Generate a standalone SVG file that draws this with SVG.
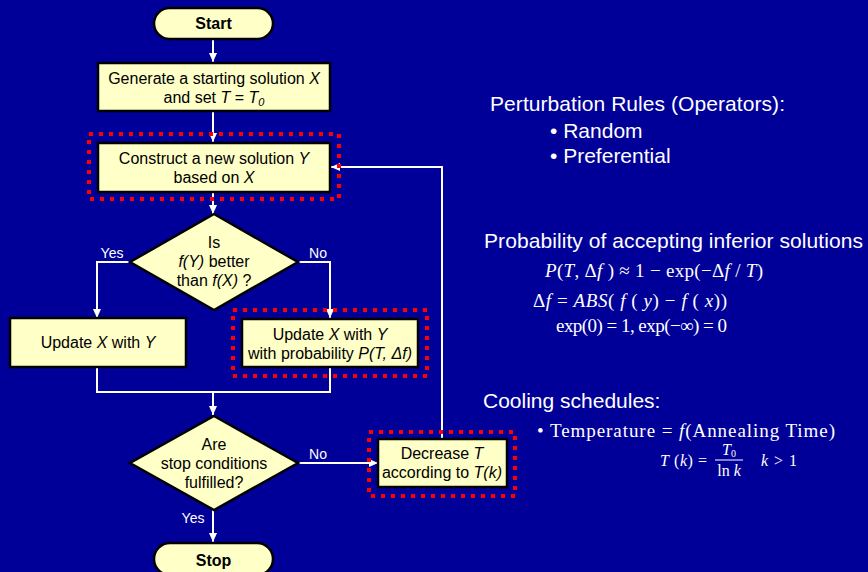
<svg xmlns="http://www.w3.org/2000/svg" width="868" height="572" viewBox="0 0 868 572">
<defs>
<marker id="ah" markerUnits="userSpaceOnUse" markerWidth="10" markerHeight="10" refX="9" refY="5" orient="auto">
<path d="M0,1 L9,5 L0,9 Z" fill="#fff"/>
</marker>
<style>
.box{fill:#FFFFC8;stroke:#000;stroke-width:2.5}
.hl{fill:none;stroke:#F00;stroke-width:4;stroke-dasharray:4 6}
.t{font-family:"Liberation Sans",Arial,sans-serif;font-size:16px;fill:#000;text-anchor:middle}
.b{font-weight:bold}
.i{font-style:italic}
.lbl{font-family:"Liberation Sans",Arial,sans-serif;font-size:14px;fill:#fff;text-anchor:middle}
.c{fill:none;stroke:#fff;stroke-width:2}
.a{marker-end:url(#ah)}
.r{font-family:"Liberation Sans",Arial,sans-serif;font-size:21px;fill:#fff}
.m{font-family:"Liberation Serif","Times New Roman",serif;font-size:19px;fill:#fff}
.s{font-family:"Liberation Serif","Times New Roman",serif;font-size:16px;fill:#fff}
</style>
</defs>
<rect width="868" height="572" fill="#000099"/>

<g id="connectors">
<path class="c a" d="M213,39 V62"/>
<path class="c a" d="M213,111 V142"/>
<path class="c a" d="M213,192 V214"/>
<path class="c a" d="M130,262 H97 V318"/>
<path class="c a" d="M298,262 H330 V318"/>
<path class="c" d="M97,367 V392 H330 V367"/>
<path class="c a" d="M213,392 V415"/>
<path class="c a" d="M298,463 H378"/>
<path class="c a" d="M213,510 V542"/>
<path class="c a" d="M442,439 V167 H331"/>
<text class="lbl" x="112" y="258">Yes</text>
<text class="lbl" x="318" y="258">No</text>
<text class="lbl" x="318" y="459">No</text>
<text class="lbl" x="193" y="523">Yes</text>
</g>

<g id="start">
<rect class="box" x="154" y="8" width="119" height="31" rx="15.5"/>
<text class="t b" x="213.5" y="29">Start</text>
</g>

<g id="generate">
<rect class="box" x="98" y="63" width="232" height="48"/>
<text class="t" x="214" y="84">Generate a starting solution <tspan class="i">X</tspan></text>
<text class="t" x="214" y="103">and set <tspan class="i">T</tspan> = <tspan class="i">T</tspan><tspan class="i" font-size="11" dy="3">0</tspan></text>
</g>

<g id="construct">
<rect class="hl" x="89" y="134" width="250" height="65"/>
<rect class="box" x="98" y="143" width="232" height="49"/>
<text class="t" x="214" y="164">Construct a new solution <tspan class="i">Y</tspan></text>
<text class="t" x="214" y="183">based on <tspan class="i">X</tspan></text>
</g>

<g id="decision1">
<polygon class="box" points="214,214 298,262 214,310 130,262"/>
<text class="t" x="214" y="248">Is</text>
<text class="t" x="214" y="267"><tspan class="i">f(Y)</tspan> better</text>
<text class="t" x="214" y="286">than <tspan class="i">f(X)</tspan> ?</text>
</g>

<g id="update">
<rect class="box" x="10" y="318" width="176" height="49"/>
<text class="t" x="98" y="348">Update <tspan class="i">X</tspan> with <tspan class="i">Y</tspan></text>
</g>

<g id="updateprob">
<rect class="hl" x="233" y="310" width="194" height="66"/>
<rect class="box" x="242" y="319" width="176" height="48"/>
<text class="t" x="330" y="340">Update <tspan class="i">X</tspan> with <tspan class="i">Y</tspan></text>
<text class="t" x="330" y="359">with probability <tspan class="i">P(T, Δf)</tspan></text>
</g>

<g id="decision2">
<polygon class="box" points="214,416 298,463 214,510 130,463"/>
<text class="t" x="214" y="450">Are</text>
<text class="t" x="214" y="469">stop conditions</text>
<text class="t" x="214" y="488">fulfilled?</text>
</g>

<g id="decrease">
<rect class="hl" x="369" y="432" width="146" height="64"/>
<rect class="box" x="378" y="439" width="129" height="48"/>
<text class="t" x="442" y="459">Decrease <tspan class="i">T</tspan></text>
<text class="t" x="442" y="478">according to <tspan class="i">T(k)</tspan></text>
</g>

<g id="stop">
<rect class="box" x="154" y="543" width="119" height="32" rx="16"/>
<text class="t b" x="213.5" y="566">Stop</text>
</g>

<g id="notes">
<text class="r" x="490" y="111" textLength="295">Perturbation Rules (Operators):</text>
<text class="r" x="550" y="138">• Random</text>
<text class="r" x="550" y="163">• Preferential</text>

<text class="r" x="484" y="248" textLength="379">Probability of accepting inferior solutions</text>
<text class="m" x="545" y="277" textLength="218"><tspan font-style="italic">P</tspan>(<tspan font-style="italic">T</tspan>, Δ<tspan font-style="italic">f</tspan> ) ≈ 1 − exp(−Δ<tspan font-style="italic">f</tspan> / <tspan font-style="italic">T</tspan>)</text>
<text class="m" x="533" y="307" textLength="194">Δ<tspan font-style="italic">f</tspan> = <tspan font-style="italic">ABS</tspan>( <tspan font-style="italic">f</tspan> ( <tspan font-style="italic">y</tspan>) − <tspan font-style="italic">f</tspan> ( <tspan font-style="italic">x</tspan>))</text>
<text class="m" x="556" y="332" textLength="171">exp(0) = 1, exp(−∞) = 0</text>

<text class="r" x="483" y="408">Cooling schedules:</text>
<text class="m" x="537" y="437" font-size="20" textLength="298">• Temperature = <tspan font-style="italic">f</tspan>(Annealing Time)</text>
<text class="s" x="660" y="466" textLength="47"><tspan font-style="italic">T</tspan> (<tspan font-style="italic">k</tspan>) =</text>
<text class="s" x="729" y="455" text-anchor="middle"><tspan font-style="italic">T</tspan><tspan font-size="10" dy="2">0</tspan></text>
<line x1="715" y1="460" x2="743" y2="460" stroke="#fff" stroke-width="1"/>
<text class="s" x="729" y="476" text-anchor="middle">ln <tspan font-style="italic">k</tspan></text>
<text class="s" x="761" y="466" textLength="36"><tspan font-style="italic">k</tspan> &gt; 1</text>
</g>
</svg>
